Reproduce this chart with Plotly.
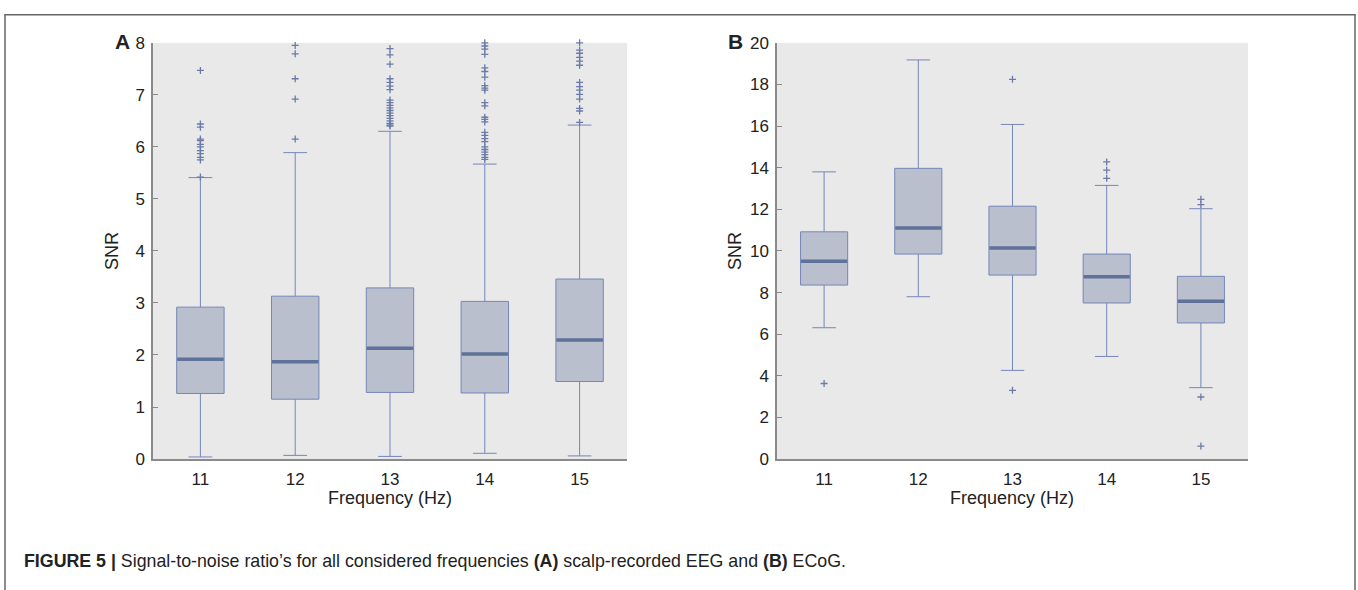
import plotly.graph_objects as go

freqs = [11, 12, 13, 14, 15]

# Panel A: scalp-recorded EEG
a_q1 = [1.26, 1.15, 1.28, 1.27, 1.49]
a_med = [1.92, 1.87, 2.13, 2.02, 2.29]
a_q3 = [2.92, 3.13, 3.29, 3.03, 3.46]
a_low = [0.04, 0.07, 0.05, 0.11, 0.06]
a_high = [5.41, 5.89, 6.30, 5.67, 6.42]
a_out_11 = [7.47, 6.44, 6.38, 6.15, 6.12, 6.05, 6.00, 5.93, 5.87, 5.80, 5.75, 5.42]
a_out_12 = [7.95, 7.79, 7.31, 6.92, 6.15]
a_out_13 = [7.89, 7.77, 7.59, 7.31, 7.24, 7.17, 7.10, 6.90, 6.85, 6.80, 6.75, 6.70,
            6.65, 6.60, 6.55, 6.50, 6.45, 6.42, 6.40]
a_out_14 = [8.00, 7.94, 7.88, 7.78, 7.52, 7.45, 7.34, 7.18, 7.13, 7.09, 6.85, 6.79,
            6.57, 6.53, 6.48, 6.28, 6.22, 6.16, 6.10, 6.00, 5.95, 5.90, 5.85, 5.80, 5.76]
a_out_15 = [8.00, 7.86, 7.80, 7.72, 7.65, 7.57, 7.24, 7.16, 7.09, 7.01, 6.92, 6.74,
            6.69, 6.47]

# Panel B: ECoG
b_q1 = [8.36, 9.85, 8.84, 7.50, 6.54]
b_med = [9.50, 11.10, 10.14, 8.76, 7.58]
b_q3 = [10.92, 13.97, 12.15, 9.85, 8.78]
b_low = [6.31, 7.80, 4.26, 4.93, 3.43]
b_high = [13.80, 19.18, 16.08, 13.15, 12.03]
b_out_11 = [3.63]
b_out_12 = []
b_out_13 = [18.25, 3.30]
b_out_14 = [14.28, 13.88, 13.49]
b_out_15 = [12.48, 12.23, 2.98, 0.62]

a_ticks = [0, 1, 2, 3, 4, 5, 6, 7, 8]
b_ticks = [0, 2, 4, 6, 8, 10, 12, 14, 16, 18, 20]

BOX_FILL = "#B9BFCC"
BOX_LINE = "#7686B8"
MED = "#5F7299"
OUT = "#6A7BA8"
BG = "#E9E9E9"
AX = "#8A8A8A"
FONT = "Liberation Sans, Arial, sans-serif"

fig = go.Figure()


def add_panel(q1, med, q3, low, high, outs, xa, ya):
    fig.add_trace(go.Box(
        x=freqs, q1=q1, median=med, q3=q3, lowerfence=low, upperfence=high,
        width=0.5, whiskerwidth=0.5, fillcolor=BOX_FILL,
        line=dict(color=BOX_LINE, width=1), boxpoints=False,
        xaxis=xa, yaxis=ya, showlegend=False, hoverinfo="skip"))
    mx, my = [], []
    for f, m in zip(freqs, med):
        mx += [f - 0.245, f + 0.245, None]
        my += [m, m, None]
    fig.add_trace(go.Scatter(x=mx, y=my, mode="lines",
                             line=dict(color=MED, width=3.5),
                             xaxis=xa, yaxis=ya, showlegend=False, hoverinfo="skip"))
    ox, oy = [], []
    for f, vals in zip(freqs, outs):
        ox += [f] * len(vals)
        oy += vals
    fig.add_trace(go.Scatter(x=ox, y=oy, mode="markers",
                             marker=dict(symbol="cross-thin", size=5,
                                         line=dict(color=OUT, width=1.3)),
                             cliponaxis=False,
                             xaxis=xa, yaxis=ya, showlegend=False, hoverinfo="skip"))


add_panel(a_q1, a_med, a_q3, a_low, a_high,
          [a_out_11, a_out_12, a_out_13, a_out_14, a_out_15], "x", "y")
add_panel(b_q1, b_med, b_q3, b_low, b_high,
          [b_out_11, b_out_12, b_out_13, b_out_14, b_out_15], "x2", "y2")

W, H = 1358, 590
ytop, ybot = 1 - 35 / H, 1 - 465 / H

xcommon = dict(range=[10.5, 15.5], tickvals=freqs, ticktext=[str(f) for f in freqs],
               showgrid=False, zeroline=False, showline=True, linecolor=AX,
               linewidth=1.5, ticks="", ticklabelstandoff=4,
               tickfont=dict(size=17, color="#222"), fixedrange=True)
ycommon = dict(showgrid=False, zeroline=False, showline=True, linecolor=AX,
               linewidth=1.5, ticks="inside", ticklen=5, tickcolor=AX,
               ticklabelstandoff=3,
               tickfont=dict(size=17, color="#222"), fixedrange=True)

fig.update_layout(
    width=W, height=H, margin=dict(l=0, r=0, t=0, b=0),
    paper_bgcolor="white", plot_bgcolor=BG,
    font=dict(family=FONT, color="#222"),
    xaxis=dict(domain=[153 / W, 627 / W], anchor="y", **xcommon),
    yaxis=dict(domain=[ybot, ytop], anchor="x", range=[0, 8], tickvals=a_ticks, **ycommon),
    xaxis2=dict(domain=[777 / W, 1248 / W], anchor="y2", **xcommon),
    yaxis2=dict(domain=[ybot, ytop], anchor="x2", range=[0, 20], tickvals=b_ticks, **ycommon),
)


def note(text, x, y, size, angle=0, xanchor="center"):
    return dict(text=text, x=x / W, y=1 - y / H, xref="paper", yref="paper",
                xanchor=xanchor, yanchor="middle", textangle=angle,
                showarrow=False, font=dict(size=size, color="#222"))


ann = [
    note("<b>A</b>", 122, 34, 21),
    note("<b>B</b>", 735, 34, 21),
    note("SNR", 112, 250, 18, angle=-90),
    note("SNR", 735, 250, 18, angle=-90),
    note("Frequency (Hz)", 390, 505, 18),
    note("Frequency (Hz)", 1012, 505, 18),
    note("<b>FIGURE 5 |</b> Signal-to-noise ratio\u2019s for all considered frequencies "
         "<b>(A)</b> scalp-recorded EEG and <b>(B)</b> ECoG.", 22, 570, 17.8,
         xanchor="left"),
]
fig.update_layout(annotations=ann)

fig.add_shape(type="rect", xref="paper", yref="paper",
              x0=5 / W, x1=1355 / W, y0=-0.05, y1=1 - 6 / H,
              line=dict(color="#666", width=1.5), fillcolor="rgba(0,0,0,0)", layer="above")

fig.write_html("out.html")
